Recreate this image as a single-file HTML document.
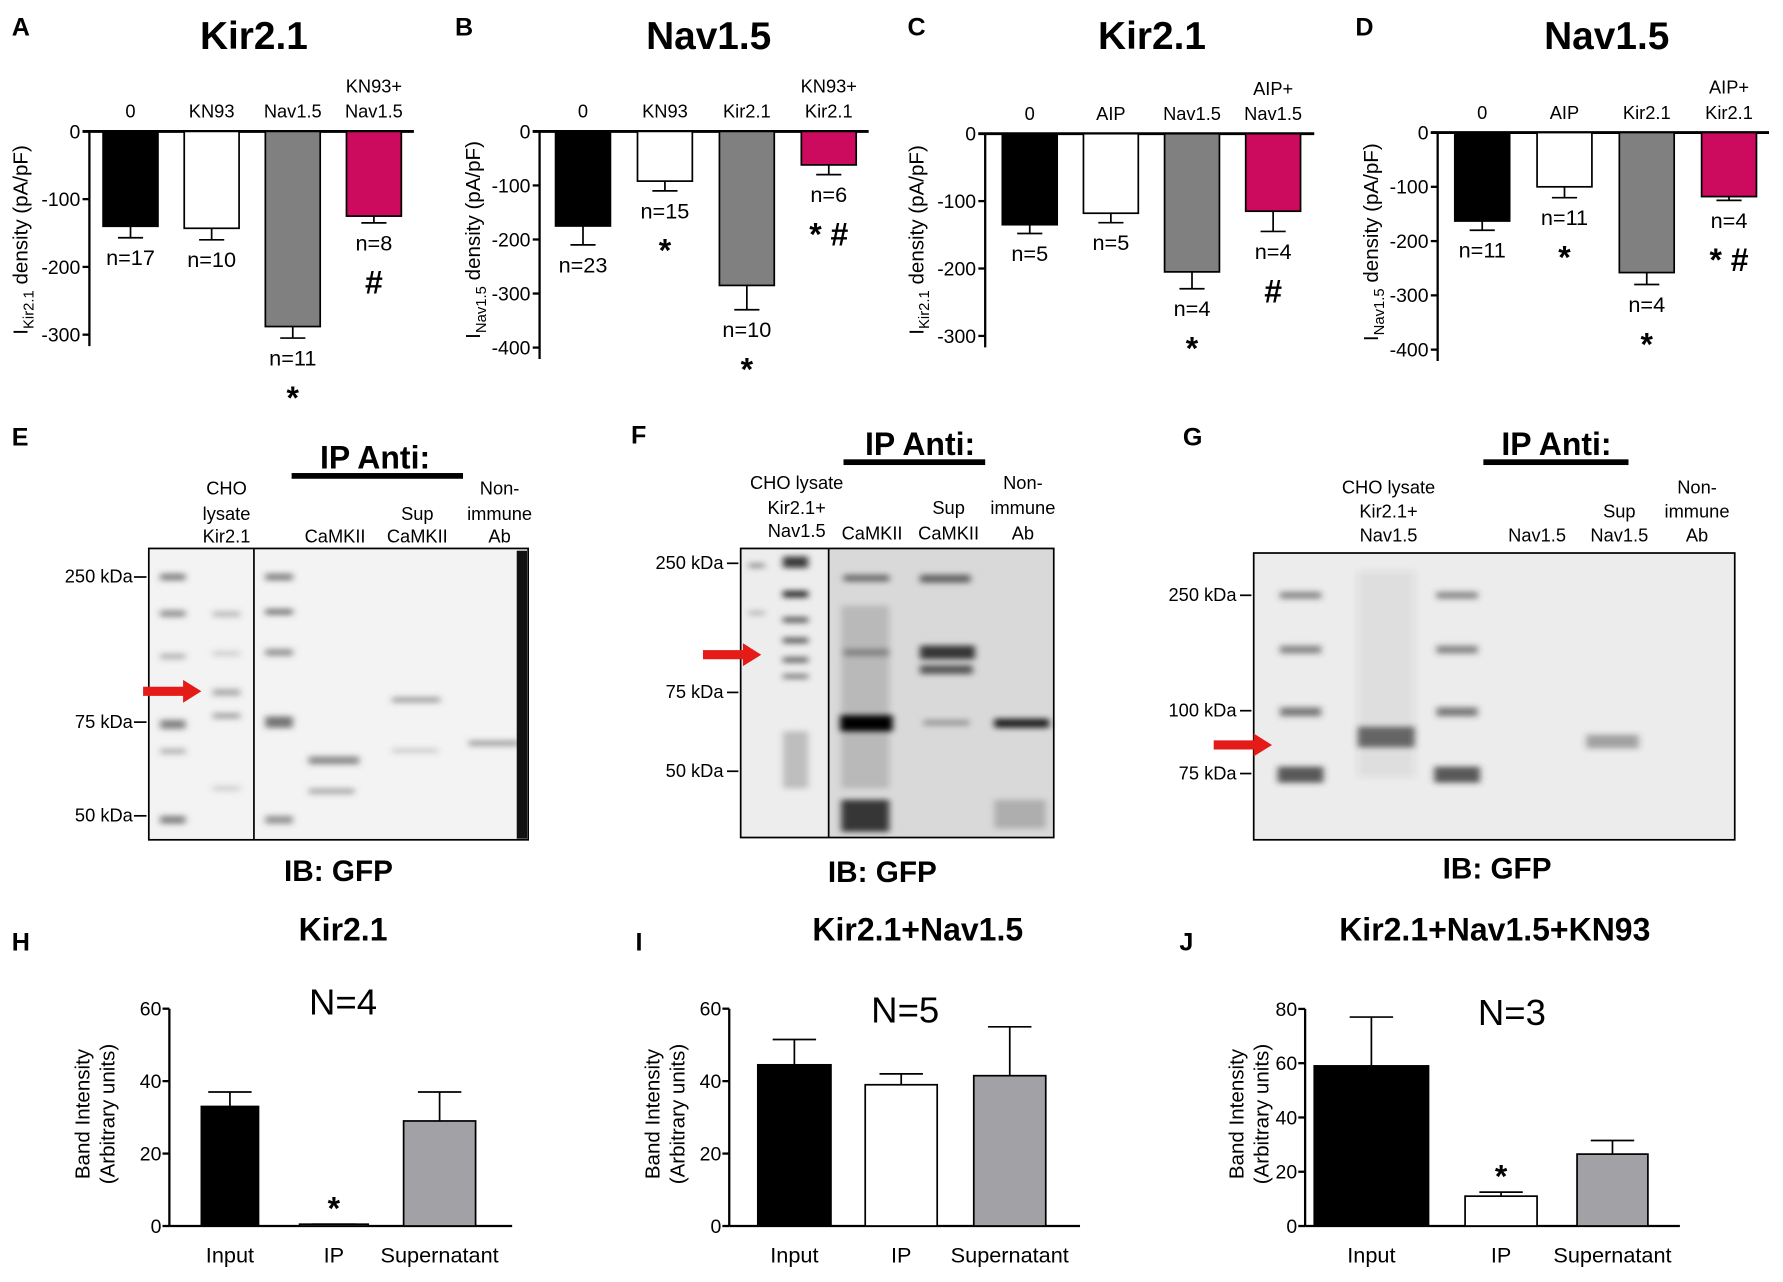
<!DOCTYPE html>
<html><head><meta charset="utf-8"><style>
html,body{margin:0;padding:0;background:#fff;}
svg{display:block;font-family:"Liberation Sans",Arial,sans-serif;}
</style></head><body>
<svg id="fig" width="1783" height="1282" viewBox="0 0 1560 1122" xmlns="http://www.w3.org/2000/svg">
<defs>
<filter id="bl" x="-50%" y="-300%" width="200%" height="700%"><feGaussianBlur stdDeviation="3 2.5"/></filter>
</defs>

<!-- Panel E -->
<g font-size="16" text-anchor="middle">
  <text x="10" y="390" font-size="22" font-weight="bold" text-anchor="start">E</text>
  <text x="328" y="410" font-size="28" font-weight="bold">IP Anti:</text>
  <rect x="255" y="414" width="150" height="5" fill="#000"/>
  <g>
    <text x="198" y="433">CHO</text><text x="198" y="455">lysate</text><text x="198" y="475">Kir2.1</text>
    <text x="293" y="475">CaMKII</text>
    <text x="365" y="455">Sup</text><text x="365" y="475">CaMKII</text>
    <text x="437" y="433">Non-</text><text x="437" y="455">immune</text><text x="437" y="475">Ab</text>
  </g>
  <rect x="130" y="480" width="332" height="255" fill="#f3f3f3" stroke="#000" stroke-width="1.5"/>
  <g filter="url(#bl)" fill="#555">
    <rect x="140" y="502" width="22" height="6" opacity=".7"/><rect x="140" y="534" width="22" height="6" opacity=".6"/>
    <rect x="140" y="572" width="22" height="5" opacity=".4"/><rect x="140" y="630" width="22" height="8" opacity=".7"/>
    <rect x="140" y="655" width="22" height="5" opacity=".4"/><rect x="140" y="714" width="22" height="7" opacity=".7"/>
    <rect x="232" y="502" width="24" height="6" opacity=".7"/><rect x="232" y="533" width="24" height="5" opacity=".8"/>
    <rect x="232" y="568" width="24" height="6" opacity=".6"/><rect x="232" y="627" width="24" height="10" opacity=".8"/>
    <rect x="232" y="714" width="24" height="7" opacity=".6"/>
    <rect x="186" y="535" width="24" height="5" opacity=".35"/><rect x="186" y="570" width="24" height="4" opacity=".25"/>
    <rect x="186" y="603" width="24" height="6" opacity=".45"/><rect x="186" y="624" width="24" height="5" opacity=".5"/>
    <rect x="186" y="688" width="24" height="4" opacity=".25"/>
    <rect x="270" y="662" width="44" height="7" opacity=".65"/><rect x="270" y="690" width="40" height="5" opacity=".45"/>
    <rect x="343" y="610" width="42" height="5" opacity=".5"/><rect x="343" y="655" width="40" height="4" opacity=".25"/>
    <rect x="410" y="648" width="44" height="5" opacity=".5"/>
  </g>
  <line x1="222" y1="480" x2="222" y2="735" stroke="#000" stroke-width="1.5"/>
  <rect x="452" y="482" width="9" height="252" fill="#111"/>
  <g text-anchor="end">
    <text x="116" y="510">250 kDa</text><line x1="117" y1="505" x2="128" y2="505" stroke="#000" stroke-width="1.5"/>
    <text x="116" y="637">75 kDa</text><line x1="117" y1="632" x2="128" y2="632" stroke="#000" stroke-width="1.5"/>
    <text x="116" y="719">50 kDa</text><line x1="117" y1="714" x2="128" y2="714" stroke="#000" stroke-width="1.5"/>
  </g>
  <polygon points="125,601 160,601 160,595 176,605 160,615 160,609 125,609" fill="#e41b17"/>
  <text x="296" y="771" font-size="26" font-weight="bold">IB: GFP</text>
</g>

<!-- Panel F -->
<g font-size="16" text-anchor="middle">
  <text x="552" y="388" font-size="22" font-weight="bold" text-anchor="start">F</text>
  <text x="805" y="398" font-size="28" font-weight="bold">IP Anti:</text>
  <rect x="738" y="402" width="124" height="5" fill="#000"/>
  <g>
    <text x="697" y="428">CHO lysate</text><text x="697" y="450">Kir2.1+</text><text x="697" y="470">Nav1.5</text>
    <text x="763" y="472">CaMKII</text>
    <text x="830" y="450">Sup</text><text x="830" y="472">CaMKII</text>
    <text x="895" y="428">Non-</text><text x="895" y="450">immune</text><text x="895" y="472">Ab</text>
  </g>
  <rect x="648" y="480" width="274" height="253" fill="#d9d9d9" stroke="#000" stroke-width="1.5"/>
  <rect x="649" y="481" width="76" height="251" fill="#ededed"/>
  <g filter="url(#bl)" fill="#000">
    <rect x="685" y="487" width="22" height="10" opacity=".75"/><rect x="685" y="517" width="22" height="6" opacity=".8"/>
    <rect x="685" y="540" width="22" height="5" opacity=".6"/><rect x="685" y="558" width="22" height="5" opacity=".6"/>
    <rect x="685" y="575" width="22" height="5" opacity=".55"/><rect x="685" y="590" width="22" height="4" opacity=".5"/>
    <rect x="685" y="640" width="22" height="50" opacity=".2"/>
    <rect x="655" y="493" width="14" height="4" opacity=".4"/><rect x="655" y="535" width="14" height="3" opacity=".3"/>
    <rect x="738" y="503" width="40" height="6" opacity=".5"/><rect x="738" y="568" width="40" height="6" opacity=".3"/>
    <rect x="735" y="626" width="46" height="14" opacity="1"/><rect x="736" y="700" width="42" height="28" opacity=".75"/>
    <rect x="736" y="530" width="42" height="160" opacity=".15"/>
    <rect x="805" y="503" width="44" height="7" opacity=".55"/><rect x="805" y="565" width="48" height="12" opacity=".75"/>
    <rect x="805" y="582" width="46" height="8" opacity=".6"/><rect x="808" y="630" width="40" height="5" opacity=".3"/>
    <rect x="870" y="629" width="48" height="8" opacity=".85"/><rect x="870" y="700" width="45" height="25" opacity=".2"/>
  </g>
  <line x1="725" y1="480" x2="725" y2="733" stroke="#000" stroke-width="1.5"/>
  <g text-anchor="end">
    <text x="633" y="498">250 kDa</text><line x1="636" y1="493" x2="646" y2="493" stroke="#000" stroke-width="1.5"/>
    <text x="633" y="611">75 kDa</text><line x1="636" y1="606" x2="646" y2="606" stroke="#000" stroke-width="1.5"/>
    <text x="633" y="680">50 kDa</text><line x1="636" y1="675" x2="646" y2="675" stroke="#000" stroke-width="1.5"/>
  </g>
  <polygon points="615,569 650,569 650,563 666,573 650,583 650,577 615,577" fill="#e41b17"/>
  <text x="772" y="772" font-size="26" font-weight="bold">IB: GFP</text>
</g>

<!-- Panel G -->
<g font-size="16" text-anchor="middle">
  <text x="1035" y="390" font-size="22" font-weight="bold" text-anchor="start">G</text>
  <text x="1362" y="398" font-size="28" font-weight="bold">IP Anti:</text>
  <rect x="1298" y="402" width="127" height="5" fill="#000"/>
  <g>
    <text x="1215" y="432">CHO lysate</text><text x="1215" y="453">Kir2.1+</text><text x="1215" y="474">Nav1.5</text>
    <text x="1345" y="474">Nav1.5</text>
    <text x="1417" y="453">Sup</text><text x="1417" y="474">Nav1.5</text>
    <text x="1485" y="432">Non-</text><text x="1485" y="453">immune</text><text x="1485" y="474">Ab</text>
  </g>
  <rect x="1097" y="484" width="421" height="251" fill="#ececec" stroke="#000" stroke-width="1.5"/>
  <g filter="url(#bl)" fill="#333">
    <rect x="1120" y="518" width="36" height="6" opacity=".55"/><rect x="1120" y="565" width="36" height="7" opacity=".55"/>
    <rect x="1120" y="619" width="36" height="8" opacity=".6"/><rect x="1118" y="671" width="40" height="14" opacity=".8"/>
    <rect x="1257" y="518" width="36" height="6" opacity=".55"/><rect x="1257" y="565" width="36" height="7" opacity=".55"/>
    <rect x="1257" y="619" width="36" height="8" opacity=".6"/><rect x="1255" y="671" width="40" height="14" opacity=".8"/>
    <rect x="1188" y="636" width="50" height="18" opacity=".7"/><rect x="1188" y="500" width="50" height="180" opacity=".08"/>
    <rect x="1388" y="643" width="46" height="12" opacity=".4"/>
  </g>
  <g text-anchor="end">
    <text x="1082" y="526">250 kDa</text><line x1="1085" y1="521" x2="1095" y2="521" stroke="#000" stroke-width="1.5"/>
    <text x="1082" y="627">100 kDa</text><line x1="1085" y1="622" x2="1095" y2="622" stroke="#000" stroke-width="1.5"/>
    <text x="1082" y="682">75 kDa</text><line x1="1085" y1="677" x2="1095" y2="677" stroke="#000" stroke-width="1.5"/>
  </g>
  <polygon points="1062,648 1097,648 1097,642 1113,652 1097,662 1097,656 1062,656" fill="#e41b17"/>
  <text x="1310" y="769" font-size="26" font-weight="bold">IB: GFP</text>
</g>

<g id="root"></g>
</svg>
<script>
// ---------- Data ----------
const catsA=["0","KN93","Nav1.5","KN93+\nNav1.5"];
const valsA=[-140,-143,-288,-125];
const errA=[-157,-160,-305,-135];
const nA=["n=17","n=10","n=11\n*","n=8\n#"];
const ticksA=[0,-100,-200,-300];

const catsB=["0","KN93","Kir2.1","KN93+\nKir2.1"];
const valsB=[-175,-92,-285,-62];
const errB=[-210,-110,-330,-80];
const nB=["n=23","n=15\n*","n=10\n*","n=6\n* #"];
const ticksB=[0,-100,-200,-300,-400];

const catsC=["0","AIP","Nav1.5","AIP+\nNav1.5"];
const valsC=[-135,-118,-205,-115];
const errC=[-148,-132,-230,-145];
const nC=["n=5","n=5","n=4\n*","n=4\n#"];
const ticksC=[0,-100,-200,-300];

const catsD=["0","AIP","Kir2.1","AIP+\nKir2.1"];
const valsD=[-163,-100,-258,-118];
const errD=[-180,-120,-280,-125];
const nD=["n=11","n=11\n*","n=4\n*","n=4\n* #"];
const ticksD=[0,-100,-200,-300,-400];

const catsH=["Input","IP","Supernatant"];
const valsH=[33,0.5,29];
const errH=[37,0.5,37];
const ticksH=[0,20,40,60];

const catsI=["Input","IP","Supernatant"];
const valsI=[44.5,39,41.5];
const errI=[51.5,42,55];
const ticksI=[0,20,40,60];

const catsJ=["Input","IP","Supernatant"];
const valsJ=[59,11,26.5];
const errJ=[77,12.5,31.5];
const ticksJ=[0,20,40,60,80];

// ---------- helpers ----------
const NS="http://www.w3.org/2000/svg";
const root=document.getElementById('root');
function el(tag,attrs,parent,text){
  const e=document.createElementNS(NS,tag);
  for(const k in attrs)e.setAttribute(k,attrs[k]);
  if(text!==undefined)e.textContent=text;
  (parent||root).appendChild(e);return e;
}
function txt(x,y,s,size,opts,parent){
  opts=opts||{};
  const t=el('text',{x:x,y:y,'font-size':size,'text-anchor':opts.anchor||'middle','font-weight':opts.bold?'bold':'normal',fill:opts.fill||'#000'},parent,s);
  return t;
}
const fills=["#000","#fff","#808080","#cc0a5e"];
function ticksMin(t){return Math.min.apply(null,t);}

function negChart(cfg){
  const g=el('g',{});
  
  
  const y=v=>cfg.y0+(-v)*cfg.ppu;
  const ymin=ticksMin(cfg.ticks);
  const ax=el('line',{x1:cfg.ax,y1:y(0),x2:cfg.ax,y2:y(ymin)+10,stroke:'#000','stroke-width':2},g);
  
  
  const top=el('line',{x1:cfg.ax-6,y1:y(0),x2:cfg.xend,y2:y(0),stroke:'#000','stroke-width':2.5},g);
  
  
  cfg.ticks.forEach(t=>{
    el('line',{x1:cfg.ax-6,y1:y(t),x2:cfg.ax,y2:y(t),stroke:'#000','stroke-width':2},g);
    const tl=txt(cfg.ax-8,y(t)+6,String(t),17,{anchor:'end'},g);
    
    
  });
  cfg.cats.forEach((c,i)=>{
    const x0=cfg.bx0+i*cfg.step, w=cfg.bw, cx=x0+w/2;
    const v=cfg.vals[i], e=cfg.errs[i];
    const eb=el('line',{x1:cx,y1:y(v),x2:cx,y2:y(e),stroke:'#000','stroke-width':1.5},g);
    
    
    el('line',{x1:cx-11,y1:y(e),x2:cx+11,y2:y(e),stroke:'#000','stroke-width':1.5},g);
    const r=el('rect',{x:x0,y:y(0),width:w,height:y(v)-y(0),fill:fills[i],stroke:'#000','stroke-width':1.5},g);
    
    
    const lines=c.split('\n');
    lines.forEach((l,j)=>{
      const ct=txt(cx,y(0)-12-(lines.length-1-j)*22,l,16,{},g);
      
      
    });
    const nl=cfg.ns[i].split('\n');
    nl.forEach((l,j)=>{
      const isSym=j>0;
      const nt=txt(cx,y(e)+24+(isSym?38:0),l,isSym?28:19,{bold:isSym},g);
      
      
    });
  });
  const tt=txt(cfg.tx,43,cfg.title,34,{bold:true},g);
  
  
  const lt=txt(cfg.lx,31,cfg.letter,22,{bold:true,anchor:'start'},g);
  
  
  const yl=el('text',{x:0,y:0,'font-size':18,'text-anchor':'middle',transform:`translate(${cfg.ylx},${cfg.yly}) rotate(-90)`},g);
  
  
  el('tspan',{},yl,'I');
  el('tspan',{'font-size':13,dy:5},yl,cfg.sub);
  el('tspan',{dy:-5},yl,' density (pA/pF)');
}

negChart({name:'chart-a',letter:'A',title:'Kir2.1',tx:222,lx:10,ax:78,y0:115,ppu:0.593,xend:362,bx0:90,step:71,bw:48,cats:catsA,vals:valsA,errs:errA,ns:nA,ticks:ticksA,sub:'Kir2.1',ylx:24,yly:210});
negChart({name:'chart-b',letter:'B',title:'Nav1.5',tx:620,lx:398,ax:472,y0:115,ppu:0.473,xend:760,bx0:486,step:71.7,bw:48,cats:catsB,vals:valsB,errs:errB,ns:nB,ticks:ticksB,sub:'Nav1.5',ylx:420,yly:210});
negChart({name:'chart-c',letter:'C',title:'Kir2.1',tx:1008,lx:794,ax:862,y0:117,ppu:0.59,xend:1150,bx0:877,step:71,bw:48,cats:catsC,vals:valsC,errs:errC,ns:nC,ticks:ticksC,sub:'Kir2.1',ylx:808,yly:210});
negChart({name:'chart-d',letter:'D',title:'Nav1.5',tx:1406,lx:1186,ax:1258,y0:116,ppu:0.475,xend:1548,bx0:1273,step:72,bw:48,cats:catsD,vals:valsD,errs:errD,ns:nD,ticks:ticksD,sub:'Nav1.5',ylx:1206,yly:212});

const fillsP=["#000","#fff","#a2a2a6"];
function posChart(cfg){
  const g=el('g',{});
  
  
  const y=v=>cfg.y0-v*cfg.ppu;
  const tmax=Math.max.apply(null,cfg.ticks);
  const ax=el('line',{x1:cfg.ax,y1:y(0),x2:cfg.ax,y2:y(tmax),stroke:'#000','stroke-width':2},g);
  
  
  const xa=el('line',{x1:cfg.ax,y1:y(0),x2:cfg.xend,y2:y(0),stroke:'#000','stroke-width':2},g);
  
  
  cfg.ticks.forEach(t=>{
    el('line',{x1:cfg.ax-6,y1:y(t),x2:cfg.ax,y2:y(t),stroke:'#000','stroke-width':2},g);
    const tl=txt(cfg.ax-7,y(t)+6,String(t),17,{anchor:'end'},g);
    
    
  });
  cfg.cats.forEach((c,i)=>{
    const x0=cfg.bx[i], w=cfg.bw[i], cx=x0+w/2;
    const v=cfg.vals[i], e=cfg.errs[i];
    const eb=el('line',{x1:cx,y1:y(v),x2:cx,y2:y(e),stroke:'#000','stroke-width':1.5},g);
    
    
    el('line',{x1:cx-19,y1:y(e),x2:cx+19,y2:y(e),stroke:'#000','stroke-width':1.5},g);
    const r=el('rect',{x:x0,y:y(v),width:w,height:Math.max(0.5,y(0)-y(v)),fill:fillsP[i],stroke:'#000','stroke-width':1.5},g);
    
    
    const ct=txt(cx,y(0)+32,c,19,{},g);
    
    
    if(i===1&&cfg.star){
      const st=txt(cx,y(e)-4,'*',28,{bold:true},g);
      
      
    }
  });
  const tt=txt(cfg.tx,823,cfg.title,28,{bold:true},g);
  
  
  const nt=txt(cfg.nx,cfg.ny,cfg.N,32,{},g);
  
  
  const lt=txt(cfg.lx,832,cfg.letter,22,{bold:true,anchor:'start'},g);
  
  
  const yl=el('text',{x:0,y:0,'font-size':18,'text-anchor':'middle',transform:`translate(${cfg.ylx},975) rotate(-90)`},g);
  
  
  el('tspan',{x:0,dy:0},yl,'Band Intensity');
  el('tspan',{x:0,dy:22},yl,'(Arbitrary units)');
}
posChart({name:'chart-h',letter:'H',title:'Kir2.1',tx:300,lx:10,N:'N=4',nx:300,ny:888,ax:148,y0:1073,ppu:3.17,xend:448,bx:[176,262,353],bw:[50,60,63],cats:catsH,vals:valsH,errs:errH,ticks:ticksH,star:true,ylx:78});
posChart({name:'chart-i',letter:'I',title:'Kir2.1+Nav1.5',tx:803,lx:556,N:'N=5',nx:792,ny:895,ax:638,y0:1073,ppu:3.17,xend:945,bx:[663,757,852],bw:[64,63,63],cats:catsI,vals:valsI,errs:errI,ticks:ticksI,star:false,ylx:577});
posChart({name:'chart-j',letter:'J',title:'Kir2.1+Nav1.5+KN93',tx:1308,lx:1032,N:'N=3',nx:1323,ny:897,ax:1142,y0:1073,ppu:2.375,xend:1470,bx:[1150,1282,1380],bw:[100,63,62],cats:catsJ,vals:valsJ,errs:errJ,ticks:ticksJ,star:true,ylx:1088});
</script>
</body></html>
